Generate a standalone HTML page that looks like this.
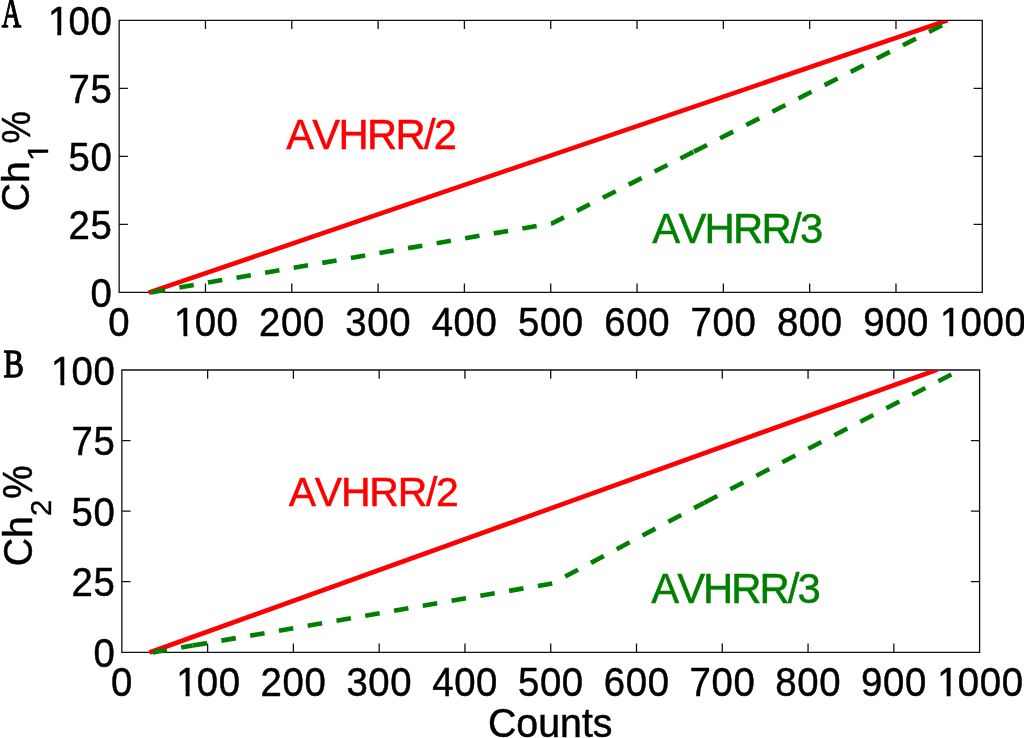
<!DOCTYPE html>
<html><head><meta charset="utf-8"><style>
html,body{margin:0;padding:0;background:#fff;width:1024px;height:738px;overflow:hidden}
svg{display:block;will-change:transform}
</style></head><body>
<svg width="1024" height="738" viewBox="0 0 1024 738">
<defs><clipPath id="k1"><path clip-rule="evenodd" d="M-500,-500H2000V500H-500ZM3.80,-4.57H12.12V1.54H3.80ZM16.18,-4.57H24.18V1.54H16.18Z"/></clipPath><clipPath id="k2"><path clip-rule="evenodd" d="M-500,-500H2000V500H-500ZM3.80,-4.57H12.12V1.54H3.80ZM16.18,-4.57H24.18V1.54H16.18Z"/></clipPath><clipPath id="k3"><path clip-rule="evenodd" d="M-500,-500H2000V500H-500ZM3.80,-4.57H12.12V1.54H3.80ZM16.18,-4.57H24.18V1.54H16.18Z"/></clipPath><clipPath id="k4"><path clip-rule="evenodd" d="M-500,-500H2000V500H-500ZM2.03,-3.74H8.53V1.48H2.03ZM11.56,-3.74H17.82V1.48H11.56Z"/></clipPath><clipPath id="k5"><path clip-rule="evenodd" d="M-500,-500H2000V500H-500ZM3.80,-4.57H12.12V1.54H3.80ZM16.18,-4.57H24.18V1.54H16.18Z"/></clipPath><clipPath id="k6"><path clip-rule="evenodd" d="M-500,-500H2000V500H-500ZM3.80,-4.57H12.12V1.54H3.80ZM16.18,-4.57H24.18V1.54H16.18Z"/></clipPath><clipPath id="k7"><path clip-rule="evenodd" d="M-500,-500H2000V500H-500ZM3.80,-4.57H12.12V1.54H3.80ZM16.18,-4.57H24.18V1.54H16.18Z"/></clipPath></defs>
<rect width="1024" height="738" fill="#fff"/>
<path d="M119.15,20.30H982.30V292.30H119.15ZM205.47,292.30V283.60M205.47,20.30V29.00M291.78,292.30V283.60M291.78,20.30V29.00M378.10,292.30V283.60M378.10,20.30V29.00M464.41,292.30V283.60M464.41,20.30V29.00M550.73,292.30V283.60M550.73,20.30V29.00M637.04,292.30V283.60M637.04,20.30V29.00M723.36,292.30V283.60M723.36,20.30V29.00M809.67,292.30V283.60M809.67,20.30V29.00M895.98,292.30V283.60M895.98,20.30V29.00M119.15,224.30H127.85M982.30,224.30H973.60M119.15,156.30H127.85M982.30,156.30H973.60M119.15,88.30H127.85M982.30,88.30H973.60" fill="none" stroke="#111" stroke-width="1.3"/>
<clipPath id="c0"><rect x="119.15" y="20.90" width="863.15" height="275.00"/></clipPath>
<g clip-path="url(#c0)" fill="none" stroke-width="4.6">
<path d="M148.60,292.60 L947.50,20.30" stroke="#ff0000"/>
<path d="M150.80,292.40 L552.30,223.30 L694.00,151.60" stroke="#008000" stroke-dasharray="14.50 14.50"/>
<path d="M694.00,151.60 L952.50,20.00" stroke="#008000" stroke-dasharray="14.65 14.65"/>
</g>
<g transform="translate(107.72 336.25) scale(0.94500 1)"><text x="0.66" y="0" font-family='"Liberation Sans", sans-serif' font-size="40.600" fill="#000" stroke="#000" stroke-width="0.476" stroke-linejoin="round">0</text></g>
<g transform="translate(172.06 336.25) scale(0.94500 1)"><text x="2.14 23.91 47.15" y="0" font-family='"Liberation Sans", sans-serif' font-size="40.600" fill="#000" stroke="#000" stroke-width="0.476" stroke-linejoin="round" clip-path="url(#k1)">100</text></g>
<g transform="translate(258.38 336.25) scale(0.94500 1)"><text x="0.66 23.91 47.15" y="0" font-family='"Liberation Sans", sans-serif' font-size="40.600" fill="#000" stroke="#000" stroke-width="0.476" stroke-linejoin="round">200</text></g>
<g transform="translate(344.69 336.25) scale(0.94500 1)"><text x="0.66 23.91 47.15" y="0" font-family='"Liberation Sans", sans-serif' font-size="40.600" fill="#000" stroke="#000" stroke-width="0.476" stroke-linejoin="round">300</text></g>
<g transform="translate(431.01 336.25) scale(0.94500 1)"><text x="0.66 23.91 47.15" y="0" font-family='"Liberation Sans", sans-serif' font-size="40.600" fill="#000" stroke="#000" stroke-width="0.476" stroke-linejoin="round">400</text></g>
<g transform="translate(517.32 336.25) scale(0.94500 1)"><text x="0.66 23.91 47.15" y="0" font-family='"Liberation Sans", sans-serif' font-size="40.600" fill="#000" stroke="#000" stroke-width="0.476" stroke-linejoin="round">500</text></g>
<g transform="translate(603.64 336.25) scale(0.94500 1)"><text x="0.66 23.91 47.15" y="0" font-family='"Liberation Sans", sans-serif' font-size="40.600" fill="#000" stroke="#000" stroke-width="0.476" stroke-linejoin="round">600</text></g>
<g transform="translate(689.95 336.25) scale(0.94500 1)"><text x="0.66 23.91 47.15" y="0" font-family='"Liberation Sans", sans-serif' font-size="40.600" fill="#000" stroke="#000" stroke-width="0.476" stroke-linejoin="round">700</text></g>
<g transform="translate(776.27 336.25) scale(0.94500 1)"><text x="0.66 23.91 47.15" y="0" font-family='"Liberation Sans", sans-serif' font-size="40.600" fill="#000" stroke="#000" stroke-width="0.476" stroke-linejoin="round">800</text></g>
<g transform="translate(862.58 336.25) scale(0.94500 1)"><text x="0.66 23.91 47.15" y="0" font-family='"Liberation Sans", sans-serif' font-size="40.600" fill="#000" stroke="#000" stroke-width="0.476" stroke-linejoin="round">900</text></g>
<g transform="translate(937.91 336.25) scale(0.94500 1)"><text x="2.14 23.91 47.15 70.40" y="0" font-family='"Liberation Sans", sans-serif' font-size="40.600" fill="#000" stroke="#000" stroke-width="0.476" stroke-linejoin="round" clip-path="url(#k2)">1000</text></g>
<g transform="translate(89.83 306.98) scale(0.94500 1)"><text x="0.66" y="0" font-family='"Liberation Sans", sans-serif' font-size="40.600" fill="#000" stroke="#000" stroke-width="0.476" stroke-linejoin="round">0</text></g>
<g transform="translate(67.86 238.98) scale(0.94500 1)"><text x="0.66 23.91" y="0" font-family='"Liberation Sans", sans-serif' font-size="40.600" fill="#000" stroke="#000" stroke-width="0.476" stroke-linejoin="round">25</text></g>
<g transform="translate(67.86 170.98) scale(0.94500 1)"><text x="0.66 23.91" y="0" font-family='"Liberation Sans", sans-serif' font-size="40.600" fill="#000" stroke="#000" stroke-width="0.476" stroke-linejoin="round">50</text></g>
<g transform="translate(67.86 102.77) scale(0.94500 1)"><text x="0.66 23.91" y="0" font-family='"Liberation Sans", sans-serif' font-size="40.600" fill="#000" stroke="#000" stroke-width="0.476" stroke-linejoin="round">75</text></g>
<g transform="translate(45.89 34.98) scale(0.94500 1)"><text x="2.14 23.91 47.15" y="0" font-family='"Liberation Sans", sans-serif' font-size="40.600" fill="#000" stroke="#000" stroke-width="0.476" stroke-linejoin="round" clip-path="url(#k3)">100</text></g>
<g transform="translate(286.17 148.75)"><text x="0.00 26.17 52.34 80.81 109.28 137.75 147.68" y="0" font-family='"Liberation Sans", sans-serif' font-size="41.716" fill="#ff0000" stroke="#ff0000" stroke-width="0.489" stroke-linejoin="round">AVHRR/2</text></g>
<g transform="translate(652.27 242.85)"><text x="0.00 26.17 52.33 80.81 109.29 137.76 147.64" y="0" font-family='"Liberation Sans", sans-serif' font-size="41.861" fill="#008000" stroke="#008000" stroke-width="0.491" stroke-linejoin="round">AVHRR/3</text></g>
<g transform="translate(1.65 27.29) scale(0.65373 1)"><text x="0.00" y="0" font-family='"Liberation Serif", serif' font-size="41.171" fill="#000" stroke="#000" stroke-width="1.407" stroke-linejoin="round">A</text></g>
<g transform="translate(29.41 211.28) rotate(-90) scale(0.98718 1)"><text x="0.00 28.57" y="0" font-family='"Liberation Sans", sans-serif' font-size="39.557" fill="#000" stroke="#000" stroke-width="0.464" stroke-linejoin="round">Ch</text></g>
<g transform="translate(48.40 162.37) rotate(-90) scale(1.11317 1)"><text x="1.11" y="0" font-family='"Liberation Sans", sans-serif' font-size="30.233" fill="#000" stroke="#000" stroke-width="0.354" stroke-linejoin="round" clip-path="url(#k4)">1</text></g>
<g transform="translate(29.56 143.60) rotate(-90) scale(0.87761 1)"><text x="0.00" y="0" font-family='"Liberation Sans", sans-serif' font-size="41.517" fill="#000" stroke="#000" stroke-width="0.487" stroke-linejoin="round">%</text></g>
<path d="M121.85,370.00H979.60V652.30H121.85ZM207.62,652.30V643.60M207.62,370.00V378.70M293.40,652.30V643.60M293.40,370.00V378.70M379.17,652.30V643.60M379.17,370.00V378.70M464.95,652.30V643.60M464.95,370.00V378.70M550.73,652.30V643.60M550.73,370.00V378.70M636.50,652.30V643.60M636.50,370.00V378.70M722.27,652.30V643.60M722.27,370.00V378.70M808.05,652.30V643.60M808.05,370.00V378.70M893.83,652.30V643.60M893.83,370.00V378.70M121.85,581.72H130.55M979.60,581.72H970.90M121.85,511.15H130.55M979.60,511.15H970.90M121.85,440.57H130.55M979.60,440.57H970.90" fill="none" stroke="#111" stroke-width="1.3"/>
<clipPath id="c1"><rect x="121.85" y="370.60" width="857.75" height="285.30"/></clipPath>
<g clip-path="url(#c1)" fill="none" stroke-width="4.6">
<path d="M149.50,652.50 L937.50,369.50" stroke="#ff0000"/>
<path d="M152.60,652.60 L192.60,645.60" stroke="#008000" stroke-dasharray="14.50 14.50"/>
<path d="M192.60,645.60 L552.30,583.40 L704.30,502.70" stroke="#008000" stroke-dasharray="14.60 14.60"/>
<path d="M704.30,502.70 L960.00,370.00" stroke="#008000" stroke-dasharray="14.65 14.65"/>
</g>
<g transform="translate(110.42 696.25) scale(0.94500 1)"><text x="0.66" y="0" font-family='"Liberation Sans", sans-serif' font-size="40.600" fill="#000" stroke="#000" stroke-width="0.476" stroke-linejoin="round">0</text></g>
<g transform="translate(174.22 696.25) scale(0.94500 1)"><text x="2.14 23.91 47.15" y="0" font-family='"Liberation Sans", sans-serif' font-size="40.600" fill="#000" stroke="#000" stroke-width="0.476" stroke-linejoin="round" clip-path="url(#k5)">100</text></g>
<g transform="translate(260.00 696.25) scale(0.94500 1)"><text x="0.66 23.91 47.15" y="0" font-family='"Liberation Sans", sans-serif' font-size="40.600" fill="#000" stroke="#000" stroke-width="0.476" stroke-linejoin="round">200</text></g>
<g transform="translate(345.77 696.25) scale(0.94500 1)"><text x="0.66 23.91 47.15" y="0" font-family='"Liberation Sans", sans-serif' font-size="40.600" fill="#000" stroke="#000" stroke-width="0.476" stroke-linejoin="round">300</text></g>
<g transform="translate(431.55 696.25) scale(0.94500 1)"><text x="0.66 23.91 47.15" y="0" font-family='"Liberation Sans", sans-serif' font-size="40.600" fill="#000" stroke="#000" stroke-width="0.476" stroke-linejoin="round">400</text></g>
<g transform="translate(517.32 696.25) scale(0.94500 1)"><text x="0.66 23.91 47.15" y="0" font-family='"Liberation Sans", sans-serif' font-size="40.600" fill="#000" stroke="#000" stroke-width="0.476" stroke-linejoin="round">500</text></g>
<g transform="translate(603.10 696.25) scale(0.94500 1)"><text x="0.66 23.91 47.15" y="0" font-family='"Liberation Sans", sans-serif' font-size="40.600" fill="#000" stroke="#000" stroke-width="0.476" stroke-linejoin="round">600</text></g>
<g transform="translate(688.87 696.25) scale(0.94500 1)"><text x="0.66 23.91 47.15" y="0" font-family='"Liberation Sans", sans-serif' font-size="40.600" fill="#000" stroke="#000" stroke-width="0.476" stroke-linejoin="round">700</text></g>
<g transform="translate(774.65 696.25) scale(0.94500 1)"><text x="0.66 23.91 47.15" y="0" font-family='"Liberation Sans", sans-serif' font-size="40.600" fill="#000" stroke="#000" stroke-width="0.476" stroke-linejoin="round">800</text></g>
<g transform="translate(860.42 696.25) scale(0.94500 1)"><text x="0.66 23.91 47.15" y="0" font-family='"Liberation Sans", sans-serif' font-size="40.600" fill="#000" stroke="#000" stroke-width="0.476" stroke-linejoin="round">900</text></g>
<g transform="translate(935.21 696.25) scale(0.94500 1)"><text x="2.14 23.91 47.15 70.40" y="0" font-family='"Liberation Sans", sans-serif' font-size="40.600" fill="#000" stroke="#000" stroke-width="0.476" stroke-linejoin="round" clip-path="url(#k6)">1000</text></g>
<g transform="translate(92.93 666.98) scale(0.94500 1)"><text x="0.66" y="0" font-family='"Liberation Sans", sans-serif' font-size="40.600" fill="#000" stroke="#000" stroke-width="0.476" stroke-linejoin="round">0</text></g>
<g transform="translate(70.96 596.40) scale(0.94500 1)"><text x="0.66 23.91" y="0" font-family='"Liberation Sans", sans-serif' font-size="40.600" fill="#000" stroke="#000" stroke-width="0.476" stroke-linejoin="round">25</text></g>
<g transform="translate(70.96 525.83) scale(0.94500 1)"><text x="0.66 23.91" y="0" font-family='"Liberation Sans", sans-serif' font-size="40.600" fill="#000" stroke="#000" stroke-width="0.476" stroke-linejoin="round">50</text></g>
<g transform="translate(70.96 455.04) scale(0.94500 1)"><text x="0.66 23.91" y="0" font-family='"Liberation Sans", sans-serif' font-size="40.600" fill="#000" stroke="#000" stroke-width="0.476" stroke-linejoin="round">75</text></g>
<g transform="translate(48.99 384.68) scale(0.94500 1)"><text x="2.14 23.91 47.15" y="0" font-family='"Liberation Sans", sans-serif' font-size="40.600" fill="#000" stroke="#000" stroke-width="0.476" stroke-linejoin="round" clip-path="url(#k7)">100</text></g>
<g transform="translate(288.77 506.15)"><text x="0.00 26.09 52.17 80.52 108.86 137.21 147.35" y="0" font-family='"Liberation Sans", sans-serif' font-size="40.989" fill="#ff0000" stroke="#ff0000" stroke-width="0.480" stroke-linejoin="round">AVHRR/2</text></g>
<g transform="translate(651.27 602.85)"><text x="0.00 25.92 51.83 80.06 108.29 136.51 146.14" y="0" font-family='"Liberation Sans", sans-serif' font-size="41.861" fill="#008000" stroke="#008000" stroke-width="0.491" stroke-linejoin="round">AVHRR/3</text></g>
<g transform="translate(3.43 377.48) scale(0.78126 1)"><text x="0.00" y="0" font-family='"Liberation Serif", serif' font-size="39.043" fill="#000" stroke="#000" stroke-width="1.334" stroke-linejoin="round">B</text></g>
<g transform="translate(31.61 566.30) rotate(-90) scale(0.98523 1)"><text x="0.00 28.81" y="0" font-family='"Liberation Sans", sans-serif' font-size="39.898" fill="#000" stroke="#000" stroke-width="0.468" stroke-linejoin="round">Ch</text></g>
<g transform="translate(51.40 515.88) rotate(-90) scale(0.98741 1)"><text x="0.00" y="0" font-family='"Liberation Sans", sans-serif' font-size="29.789" fill="#000" stroke="#000" stroke-width="0.349" stroke-linejoin="round">2</text></g>
<g transform="translate(31.75 498.63) rotate(-90) scale(0.89348 1)"><text x="0.00" y="0" font-family='"Liberation Sans", sans-serif' font-size="41.875" fill="#000" stroke="#000" stroke-width="0.491" stroke-linejoin="round">%</text></g>
<g transform="translate(488.00 736.81) scale(0.97285 1)"><text x="0.00 29.17 51.64 74.10 96.57 107.79" y="0" font-family='"Liberation Sans", sans-serif' font-size="40.395" fill="#000" stroke="#000" stroke-width="0.473" stroke-linejoin="round">Counts</text></g>
</svg>
</body></html>
